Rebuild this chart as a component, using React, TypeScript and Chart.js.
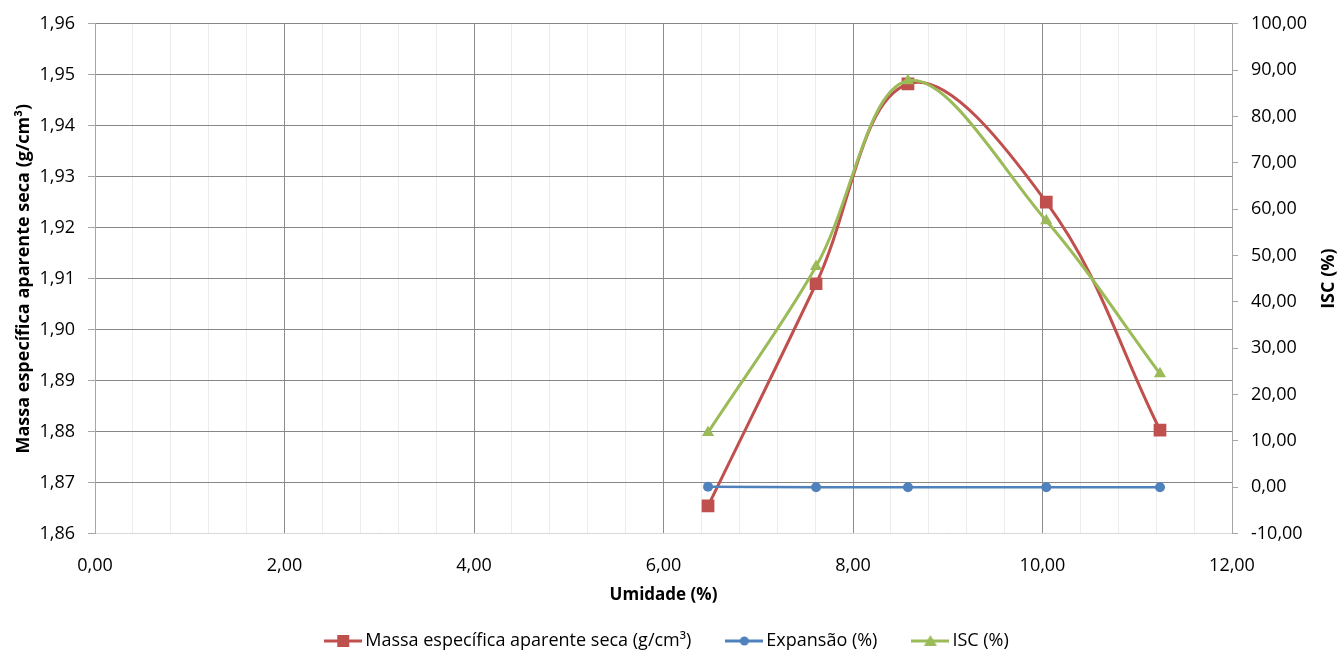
import React, { useEffect, useRef } from "react";
import { Chart, registerables } from "chart.js";

Chart.register(...registerables);

const umidade = [6.47, 7.61, 8.58, 10.04, 11.24];
const massaEspecifica = [1.8654, 1.909, 1.9482, 1.925, 1.8803];
const expansao = [0.1, 0.0, 0.0, 0.0, 0.0];
const isc = [11.8, 47.6, 87.7, 57.5, 24.5];

const seriesNames = [
  "Massa específica aparente seca (g/cm³)",
  "Expansão (%)",
  "ISC (%)",
];
const xAxisTitle = "Umidade (%)";
const yAxisTitle = "Massa específica aparente seca (g/cm³)";
const y1AxisTitle = "ISC (%)";

const RED = "#C0504D";
const BLUE = "#4F81BD";
const GREEN = "#9BBB59";
const FONT = '"Open Sans", sans-serif';
const TICK_SIZE = 18;

const fmt = (v: number) => v.toFixed(2).replace(".", ",");

function makeIcon(color: string, kind: string) {
  const c = document.createElement("canvas");
  c.width = 38;
  c.height = 16;
  const g = c.getContext("2d")!;
  g.strokeStyle = color;
  g.lineWidth = 3;
  g.beginPath();
  g.moveTo(0, 8);
  g.lineTo(38, 8);
  g.stroke();
  g.fillStyle = color;
  if (kind === "rect") {
    g.fillRect(13, 2, 12, 12);
  } else if (kind === "circle") {
    g.beginPath();
    g.arc(19, 8, 4.5, 0, Math.PI * 2);
    g.fill();
  } else {
    g.beginPath();
    g.moveTo(19, 2);
    g.lineTo(25.5, 13);
    g.lineTo(12.5, 13);
    g.closePath();
    g.fill();
  }
  return c;
}

const rightTitlePlugin = {
  id: "rightTitle",
  afterDraw(chart: any) {
    const a = chart.chartArea;
    const s = chart.scales.y1;
    const ctx = chart.ctx;
    ctx.save();
    ctx.translate(s.right - 10, (a.top + a.bottom) / 2);
    ctx.rotate(-Math.PI / 2);
    ctx.font = `bold 18px ${FONT}`;
    ctx.textAlign = "center";
    ctx.textBaseline = "middle";
    ctx.fillStyle = "#000";
    ctx.fillText(y1AxisTitle, 0, 0);
    ctx.restore();
  },
};

export default function App() {
  const ref = useRef<HTMLCanvasElement | null>(null);

  useEffect(() => {
    document.body.style.margin = "0";
    const icons = [makeIcon(RED, "rect"), makeIcon(BLUE, "circle"), makeIcon(GREEN, "triangle")];
    const toXY = (ys: number[]) => umidade.map((x, i) => ({ x, y: ys[i] }));
    const chart = new Chart(ref.current!, {
      type: "line",
      data: {
        datasets: [
          {
            label: seriesNames[0],
            data: toXY(massaEspecifica),
            yAxisID: "y",
            borderColor: RED,
            backgroundColor: RED,
            borderWidth: 3,
            pointStyle: "rect",
            pointRadius: 9,
            pointBorderWidth: 0,
            tension: 0.38,
            order: 2,
          },
          {
            label: seriesNames[1],
            data: toXY(expansao),
            yAxisID: "y1",
            borderColor: BLUE,
            backgroundColor: BLUE,
            borderWidth: 2.5,
            pointStyle: "circle",
            pointRadius: 5,
            pointBorderWidth: 0,
            tension: 0.35,
            order: 1,
          },
          {
            label: seriesNames[2],
            data: toXY(isc),
            yAxisID: "y1",
            borderColor: GREEN,
            backgroundColor: GREEN,
            borderWidth: 3,
            pointStyle: "triangle",
            pointRadius: 7,
            pointBorderWidth: 0,
            tension: 0.35,
            order: 0,
          },
        ],
      },
      options: {
        animation: false,
        responsive: true,
        maintainAspectRatio: false,
        layout: { padding: { top: 20, left: 0, right: 0, bottom: -6 } },
        plugins: {
          tooltip: { enabled: false },
          legend: {
            position: "bottom",
            labels: {
              usePointStyle: true,
              pointStyleWidth: 26,
              padding: 40,
              color: "#000",
              font: { family: FONT, size: TICK_SIZE },
              sort: (a: any, b: any) => a.datasetIndex - b.datasetIndex,
              generateLabels: (chart: any) =>
                Chart.defaults.plugins.legend.labels
                  .generateLabels(chart)
                  .map((l: any) => ({ ...l, pointStyle: icons[l.datasetIndex] })),
            },
          },
        },
        scales: {
          x: {
            type: "linear",
            min: 0,
            max: 12,
            afterFit: (s: any) => {
              const lh = s.chart.legend ? s.chart.legend.height : 50;
              s.height = s.chart.height - 533.5 - lh + 6;
            },
            ticks: {
              stepSize: 0.4,
              autoSkip: false,
              maxRotation: 0,
              padding: 22,
              color: "#000",
              font: { family: FONT, size: TICK_SIZE },
              callback: (v: any) => {
                const n = Number(v);
                return Math.abs(n / 2 - Math.round(n / 2)) < 1e-6 ? fmt(n) : "";
              },
            },
            grid: {
              drawTicks: false,
              color: (c: any) => {
                const n = c.tick ? c.tick.value : 0;
                return Math.abs(n / 2 - Math.round(n / 2)) < 1e-6 ? "#8c8c8c" : "#ececec";
              },
            },
            border: { color: "#d9d9d9", width: 1 },
            title: {
              display: true,
              text: xAxisTitle,
              color: "#000",
              font: { family: FONT, size: 17, weight: "bold" },
              padding: { top: 0, bottom: -13 },
            },
          },
          y: {
            type: "linear",
            position: "left",
            min: 1.86,
            max: 1.96,
            afterFit: (s: any) => {
              s.width = 95;
            },
            ticks: {
              stepSize: 0.01,
              padding: 13,
              color: "#000",
              font: { family: FONT, size: TICK_SIZE },
              callback: (v: any) => fmt(Number(v)),
            },
            grid: { color: "#878787", tickColor: "#a6a6a6", tickLength: 7 },
            border: { color: "#a6a6a6", width: 1 },
            title: {
              display: true,
              text: yAxisTitle,
              color: "#000",
              font: { family: FONT, size: 18, weight: "bold" },
              padding: { top: 13, bottom: 0 },
            },
          },
          y1: {
            type: "linear",
            position: "right",
            min: -10,
            max: 100,
            afterFit: (s: any) => {
              s.width = 107;
            },
            ticks: {
              stepSize: 10,
              padding: 13,
              color: "#000",
              font: { family: FONT, size: TICK_SIZE },
              callback: (v: any) => fmt(Number(v)),
            },
            grid: { drawOnChartArea: false, tickColor: "#a6a6a6", tickLength: 6 },
            border: { color: "#a6a6a6", width: 1 },
          },
        },
      },
      plugins: [rightTitlePlugin],
    } as any);
    return () => chart.destroy();
  }, []);

  return (
    <div style={{ position: "fixed", left: 0, top: 0, width: 1339, height: 654 }}>
      <canvas ref={ref} />
    </div>
  );
}
